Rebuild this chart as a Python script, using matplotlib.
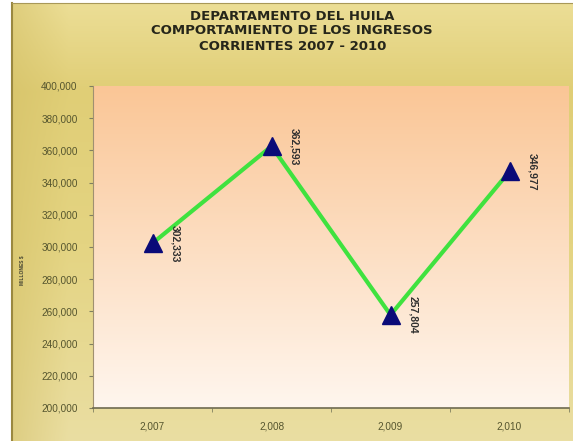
import numpy as np
import matplotlib.pyplot as plt
from matplotlib.ticker import FuncFormatter

# Ingresos corrientes, millones de pesos
years = ['2,007', '2,008', '2,009', '2,010']
ingresos = [302333, 362593, 257804, 346977]
labels = ['302,333', '362,593', '257,804', '346,977']

plt.rcParams['font.family'] = ['Liberation Sans', 'DejaVu Sans']

fig = plt.figure(figsize=(5.73, 4.41), dpi=100)
fig.patch.set_facecolor('white')

# gold frame with a soft gradient
bg = fig.add_axes([12 / 573, 0, 1 - 12 / 573, 1 - 3 / 441])
ny, nx = 200, 300
yy, xx = np.mgrid[0:1:ny * 1j, 0:1:nx * 1j]
stops = np.array([0.0, 0.2, 0.55, 1.0])
cols = np.array([[236, 222, 150], [224, 206, 118], [228, 212, 130], [234, 222, 162]]) / 255
img = np.stack([np.interp(yy, stops, cols[:, k]) for k in range(3)], axis=-1)
shade = np.clip(1 - xx / 0.1, 0, 1)[..., None]
dark = np.array([210, 190, 100]) / 255
img = img * (1 - 0.5 * shade) + dark * 0.5 * shade
bg.imshow(img, aspect='auto', extent=[0, 1, 0, 1], origin='upper')
bg.set_xlim(0, 1)
bg.set_ylim(0, 1)
bg.set_xticks([])
bg.set_yticks([])
for s in bg.spines.values():
    s.set_visible(False)
bg.spines['left'].set_visible(True)
bg.spines['left'].set_color('#9a8840')
bg.spines['left'].set_linewidth(1.5)
bg.spines['top'].set_visible(True)
bg.spines['top'].set_color('#a89858')

ax = fig.add_axes([93 / 573, 1 - 408 / 441, (569 - 93) / 573, (408 - 86) / 441])
ax.set_zorder(2)

# peach gradient behind the plot area
grad = np.linspace(0, 1, 256)[:, None]
c_top = np.array([250, 198, 150]) / 255
c_bot = np.array([255, 246, 238]) / 255
pa = c_top[None, None, :] * (1 - grad[..., None]) + c_bot[None, None, :] * grad[..., None]
pa = np.repeat(pa, 2, axis=1)
ax.imshow(pa, aspect='auto', extent=[-0.5, 3.5, 200000, 400000], origin='upper', zorder=0)

x = np.arange(len(years))
ax.plot(x, ingresos, color='#3fe23f', linewidth=3, zorder=2)
ax.plot(x, ingresos, linestyle='none', marker='^', markersize=13,
        color='#0a0a78', zorder=3)

for xi, v, t in zip(x, ingresos, labels):
    ax.annotate(t, (xi, v), xytext=(13, 0), textcoords='offset points',
                rotation=270, ha='left', va='center', fontsize=7.5,
                color='#303030', fontweight='bold', zorder=4)

ax.set_xlim(-0.5, 3.5)
ax.set_ylim(200000, 400000)
ax.set_yticks(np.arange(200000, 400001, 20000))
ax.yaxis.set_major_formatter(FuncFormatter(lambda v, p: f'{int(v):,}'))
ax.set_xticks(x)
ax.set_xticklabels(years)
ax.set_xticks(np.arange(-0.5, 3.6, 1), minor=True)
ax.tick_params(axis='x', which='major', length=0, pad=10)
ax.tick_params(axis='x', which='minor', length=3, color='#808060')
ax.tick_params(axis='y', length=3, color='#808060', pad=8)
for lab in ax.get_xticklabels() + ax.get_yticklabels():
    lab.set_fontsize(7.2)
    lab.set_color('#55552e')

for s in ['top', 'right']:
    ax.spines[s].set_visible(False)
ax.spines['left'].set_color('#a09070')
ax.spines['bottom'].set_color('#6e6a50')
ax.spines['bottom'].set_linewidth(1.2)

fig.text(22 / 573, 1 - 270 / 441, 'MILLONES $', rotation=90, fontsize=3.5,
         color='#404030', ha='center', va='center', fontweight='bold')

title_lines = ['DEPARTAMENTO DEL HUILA', 'COMPORTAMIENTO DE LOS INGRESOS',
               'CORRIENTES 2007 - 2010']
for i, line in enumerate(title_lines):
    fig.text(0.51, 1 - (16 + 15 * i) / 441, line, ha='center', va='center',
             fontsize=9.5, fontweight='bold', color='#26261a',
             family='DejaVu Sans')

fig.savefig('out.png', dpi=100)
